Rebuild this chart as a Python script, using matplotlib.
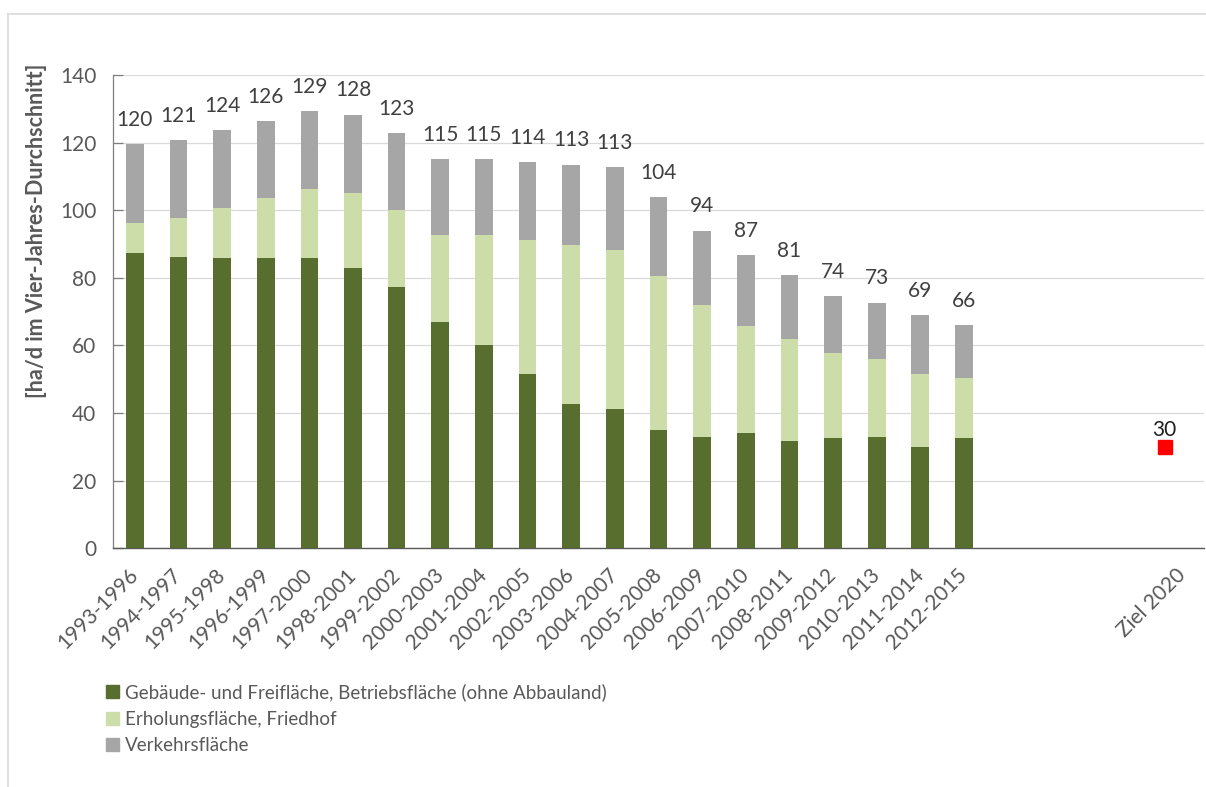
import matplotlib.pyplot as plt
import matplotlib.lines as mlines
import matplotlib.patches as mpatches
import numpy as np

plt.rcParams['font.family'] = ['Lato', 'DejaVu Sans']

# Daten (ha/d im Vier-Jahres-Durchschnitt)
periods = ['1993-1996', '1994-1997', '1995-1998', '1996-1999', '1997-2000', '1998-2001',
           '1999-2002', '2000-2003', '2001-2004', '2002-2005', '2003-2006', '2004-2007',
           '2005-2008', '2006-2009', '2007-2010', '2008-2011', '2009-2012', '2010-2013',
           '2011-2014', '2012-2015']
gebaeude = [87.3, 86.3, 86.0, 86.0, 86.0, 82.8, 77.3, 67.0, 60.2, 51.7,
            42.6, 41.1, 35.0, 33.0, 34.1, 31.6, 32.7, 32.9, 30.1, 32.7]
erholung = [8.9, 11.5, 14.8, 17.7, 20.4, 22.4, 22.8, 25.8, 32.6, 39.5,
            47.2, 47.0, 45.4, 39.1, 31.7, 30.4, 25.1, 23.0, 21.6, 17.8]
verkehr = [23.4, 23.0, 22.9, 22.6, 22.9, 23.1, 22.8, 22.3, 22.3, 23.0,
           23.7, 24.7, 23.5, 21.9, 20.9, 18.8, 16.7, 16.8, 17.3, 15.5]
totals = [120, 121, 124, 126, 129, 128, 123, 115, 115, 114,
          113, 113, 104, 94, 87, 81, 74, 73, 69, 66]
ziel_label = 'Ziel 2020'
ziel_value = 30

labels = ['Gebäude- und Freifläche, Betriebsfläche (ohne Abbauland)',
          'Erholungsfläche, Friedhof',
          'Verkehrsfläche']
colors = ['#586E2E', '#CCDDAA', '#A6A6A6']
text_gray = '#595959'

# Layout: 20 Zeiträume, 4 leere Kategorien, dann Ziel 2020
n_slots = len(periods) + 5
ziel_tick = n_slots - 1
ziel_x = ziel_tick - 0.4

fig = plt.figure(figsize=(12.06, 7.87), dpi=100)
ax = fig.add_axes([0.0937, 0.3033, 0.9046, 0.6014])

x = np.arange(len(periods))
bw = 0.405
g = np.array(gebaeude)
e = np.array(erholung)
v = np.array(verkehr)
ax.bar(x, g, bw, color=colors[0], zorder=3)
ax.bar(x, e, bw, bottom=g, color=colors[1], zorder=3)
ax.bar(x, v, bw, bottom=g + e, color=colors[2], zorder=3)

for xi, top, t in zip(x, g + e + v, totals):
    ax.annotate(str(t), (xi, top), xytext=(0, 17.5), textcoords='offset points',
                ha='center', va='center', fontsize=15, color='#404040')

ax.plot([ziel_x], [ziel_value], marker='s', markersize=9.5, color='#FF0000',
        linestyle='none', zorder=4)
ax.annotate(str(ziel_value), (ziel_x, ziel_value), xytext=(0, 12), textcoords='offset points',
            ha='center', va='center', fontsize=15, color='#202020')

ax.set_xlim(-0.5, n_slots - 0.5)
ax.set_ylim(0, 140)
ax.set_yticks(np.arange(0, 141, 20))
ax.yaxis.grid(True, color='#D9D9D9', linewidth=0.9, zorder=0)
ax.set_axisbelow(True)

ax.set_xticks(list(x) + [ziel_tick])
ax.set_xticklabels(periods + [ziel_label], rotation=45, ha='right', va='center',
                   rotation_mode='anchor', fontsize=15, color=text_gray)
ax.tick_params(axis='x', length=0, pad=17)
ax.tick_params(axis='y', direction='in', length=7, width=0.9, color='#7F7F7F',
               labelsize=15, labelcolor=text_gray, pad=12)

for s in ['top', 'right']:
    ax.spines[s].set_visible(False)
ax.spines['left'].set_color('#7F7F7F')
ax.spines['bottom'].set_color('#595959')
ax.spines['left'].set_linewidth(0.9)
ax.spines['bottom'].set_linewidth(1.0)

fig.text(37 / 1206, 1 - 231 / 787, '[ha/d im Vier-Jahres-Durchschnitt]', rotation=90,
         ha='center', va='center', fontsize=15.5, fontweight='bold', color=text_gray)

handles = [mpatches.Patch(color=c) for c in colors]
fig.legend(handles, labels, loc='upper left', bbox_to_anchor=(98 / 1206, 1 - 676 / 787),
           frameon=False, fontsize=13.5, handlelength=0.7, handleheight=0.7,
           handletextpad=0.35, labelspacing=0.5, borderaxespad=0, labelcolor=text_gray)

# Rahmen des Diagrammbereichs
fig.add_artist(mlines.Line2D([7.5 / 1206, 1], [1 - 14 / 787, 1 - 14 / 787],
                             color='#D9D9D9', linewidth=1.2))
fig.add_artist(mlines.Line2D([7.5 / 1206, 7.5 / 1206], [0, 1 - 14 / 787],
                             color='#D9D9D9', linewidth=1.2))

fig.savefig('out.png', dpi=100)
